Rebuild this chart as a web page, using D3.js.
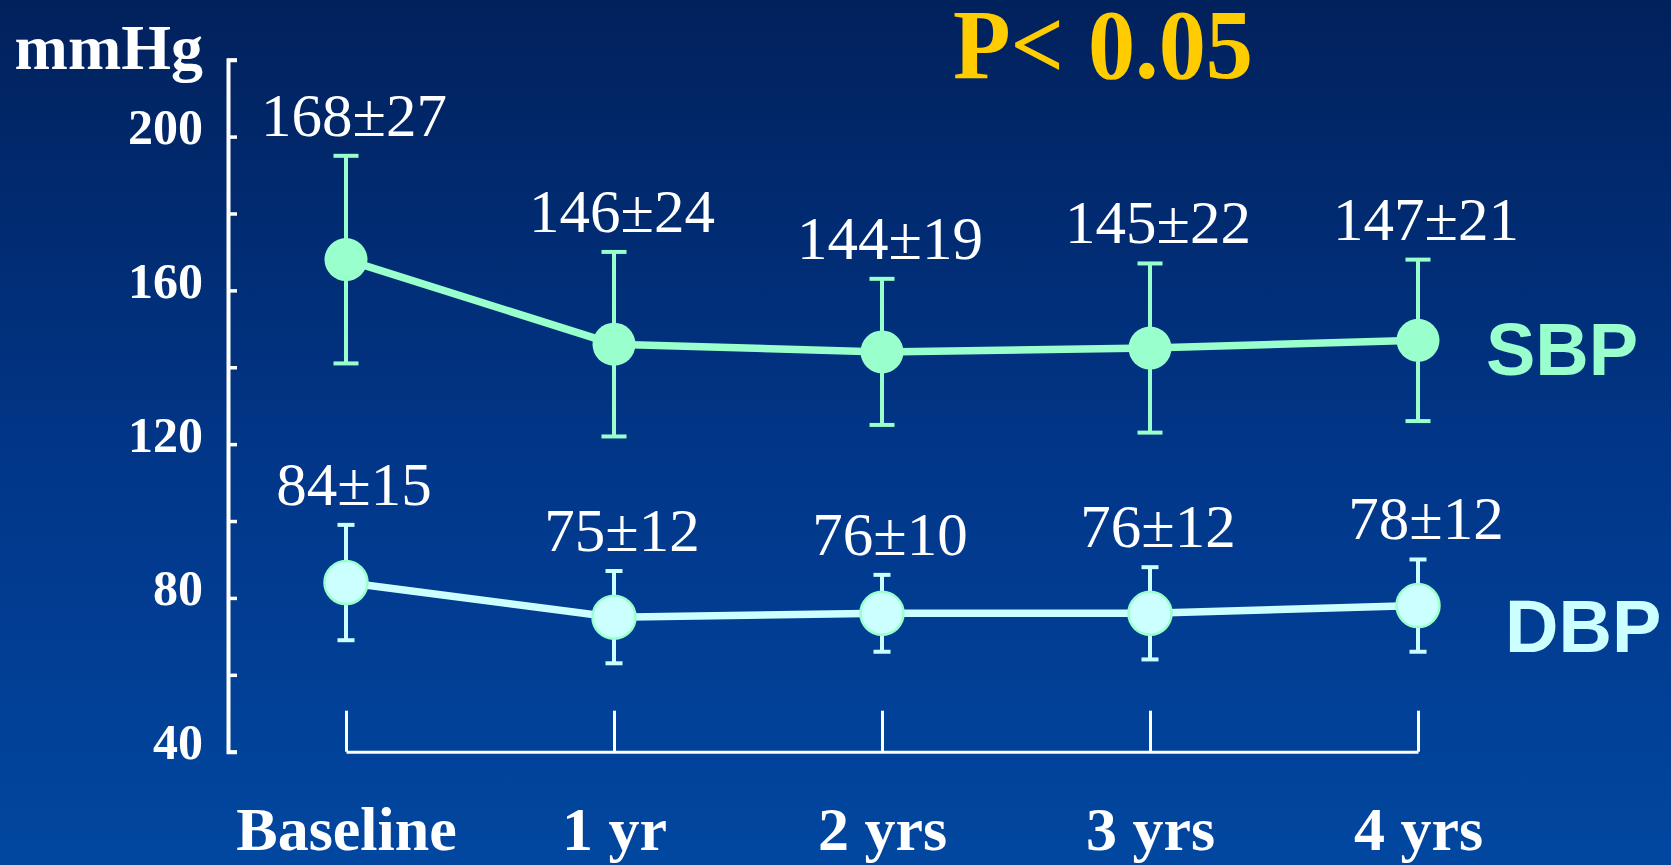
<!DOCTYPE html>
<html>
<head>
<meta charset="utf-8">
<script src="https://cdn.jsdelivr.net/npm/d3@7"></script>
<style>
  html, body { margin: 0; padding: 0; overflow: hidden; background: #01317a; }
  svg { display: block; }
</style>
</head>
<body>
<svg id="chart"></svg>
<script>
// ---- data ----
const timepoints = ["Baseline", "1 yr", "2 yrs", "3 yrs", "4 yrs"];
const sbpMean = [168, 146, 144, 145, 147];
const sbpSD   = [27, 24, 19, 22, 21];
const dbpMean = [84, 75, 76, 76, 78];
const dbpSD   = [15, 12, 10, 12, 12];
const yTickValues = [40, 60, 80, 100, 120, 140, 160, 180, 200, 220];
const yTickLabels = [40, 80, 120, 160, 200];
const yUnit = "mmHg";
const pText = "P< 0.05";

// ---- layout ----
const W = 1671, H = 865;
const svg = d3.select("#chart").attr("width", W).attr("height", H);

const serif = "'Liberation Serif', 'Times New Roman', serif";
const sans  = "'Liberation Sans', Arial, sans-serif";

// background gradient
const defs = svg.append("defs");
const grad = defs.append("linearGradient").attr("id", "bg")
  .attr("x1", 0).attr("y1", 0).attr("x2", 0).attr("y2", 1);
grad.append("stop").attr("offset", "0%").attr("stop-color", "#01215c");
grad.append("stop").attr("offset", "55%").attr("stop-color", "#01378a");
grad.append("stop").attr("offset", "100%").attr("stop-color", "#0147a0");
svg.append("rect").attr("width", W).attr("height", H).attr("fill", "url(#bg)");

// scales
const yAxisX = 228;
const y = d3.scaleLinear().domain([40, 220]).range([751.7, 59.7]);
const x = d3.scalePoint().domain(timepoints).range([346, 1418]).padding(0);

// ---- y axis (ticks pointing inward) ----
const yAxis = d3.axisLeft(y)
  .tickValues(yTickValues)
  .tickSizeInner(-9)
  .tickSizeOuter(-9)
  .tickPadding(25)
  .tickFormat(d => yTickLabels.includes(d) ? d : "");

const gy = svg.append("g").attr("transform", `translate(${yAxisX},0)`).call(yAxis);
gy.select(".domain").attr("stroke", "#fff").attr("stroke-width", 4);
gy.selectAll(".tick line").attr("stroke", "#fff").attr("stroke-width", 3.5);
gy.selectAll(".tick text")
  .attr("fill", "#fff")
  .attr("font-family", serif)
  .attr("font-weight", "bold")
  .attr("font-size", 50)
  .attr("dy", "0.14em");

// unit label
svg.append("text")
  .attr("x", 203).attr("y", 69)
  .attr("text-anchor", "end")
  .attr("fill", "#fff")
  .attr("font-family", serif).attr("font-weight", "bold").attr("font-size", 64)
  .text(yUnit);

// ---- x axis (ticks pointing up) ----
const xAxisY = y(40);
const xAxis = d3.axisBottom(x).tickSizeInner(-41).tickSizeOuter(0).tickPadding(0);
const gx = svg.append("g").attr("transform", `translate(0,${xAxisY})`).call(xAxis);
gx.select(".domain").attr("stroke", "#fff").attr("stroke-width", 3);
gx.selectAll(".tick line").attr("stroke", "#fff").attr("stroke-width", 3);
gx.selectAll(".tick text")
  .attr("fill", "#fff")
  .attr("font-family", serif).attr("font-weight", "bold").attr("font-size", 62)
  .attr("y", 98).attr("dy", 0);

// ---- series ----
const series = [
  { name: "SBP", mean: sbpMean, sd: sbpSD, color: "#99ffcc", outline: null,
    cap: 25, labelDx: 68, labelDy: 8 },
  { name: "DBP", mean: dbpMean, sd: dbpSD, color: "#ccffff", outline: "#99ffcc",
    cap: 17, labelDx: 87, labelDy: 20 }
];

series.forEach(s => {
  const pts = timepoints.map((t, i) => ({ t, m: s.mean[i], sd: s.sd[i] }));
  const g = svg.append("g");

  // error bars
  const eb = g.selectAll(".eb").data(pts).join("g").attr("stroke", s.color).attr("stroke-width", 4);
  eb.append("line")
    .attr("x1", d => x(d.t)).attr("x2", d => x(d.t))
    .attr("y1", d => y(d.m + d.sd)).attr("y2", d => y(d.m - d.sd));
  eb.append("line")
    .attr("x1", d => x(d.t) - s.cap / 2).attr("x2", d => x(d.t) + s.cap / 2)
    .attr("y1", d => y(d.m + d.sd)).attr("y2", d => y(d.m + d.sd));
  eb.append("line")
    .attr("x1", d => x(d.t) - s.cap / 2).attr("x2", d => x(d.t) + s.cap / 2)
    .attr("y1", d => y(d.m - d.sd)).attr("y2", d => y(d.m - d.sd));

  // connecting line
  g.append("path")
    .datum(pts)
    .attr("fill", "none")
    .attr("stroke", s.color)
    .attr("stroke-width", 7.5)
    .attr("d", d3.line().x(d => x(d.t)).y(d => y(d.m)));

  // markers
  g.selectAll("circle").data(pts).join("circle")
    .attr("cx", d => x(d.t)).attr("cy", d => y(d.m)).attr("r", 21.5)
    .attr("fill", s.color)
    .attr("stroke", s.outline || "none")
    .attr("stroke-width", s.outline ? 2.5 : 0);

  // mean ± SD labels
  g.selectAll(".val").data(pts).join("text")
    .attr("x", d => x(d.t) + 8)
    .attr("y", d => y(d.m + d.sd) - 20)
    .attr("text-anchor", "middle")
    .attr("fill", "#fff")
    .attr("font-family", serif).attr("font-size", 61)
    .text(d => `${d.m}±${d.sd}`);

  // series name
  const last = pts[pts.length - 1];
  g.append("text")
    .attr("x", x(last.t) + s.labelDx)
    .attr("y", y(last.m) + s.labelDy)
    .attr("dy", "0.36em")
    .attr("fill", s.color)
    .attr("font-family", sans).attr("font-weight", "bold").attr("font-size", 74)
    .text(s.name);
});

// significance note
svg.append("text")
  .attr("x", 953).attr("y", 78)
  .attr("fill", "#ffcc00")
  .attr("font-family", serif).attr("font-weight", "bold").attr("font-size", 100)
  .attr("textLength", 300).attr("lengthAdjust", "spacingAndGlyphs")
  .text(pText);
</script>
</body>
</html>
